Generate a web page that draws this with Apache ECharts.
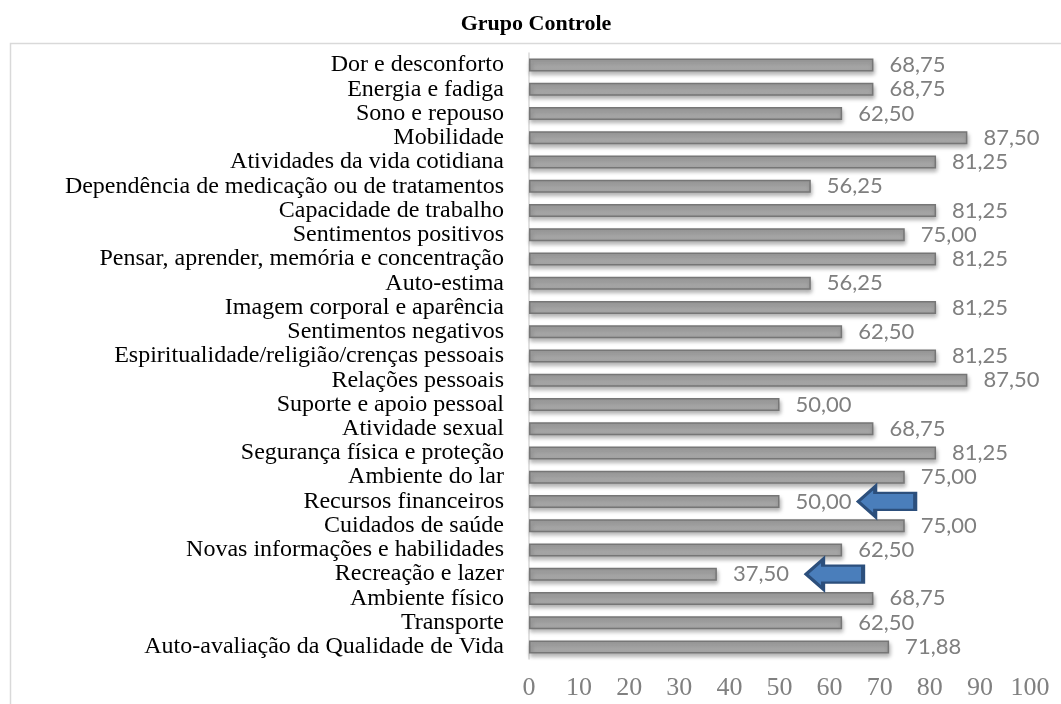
<!DOCTYPE html>
<html>
<head>
<meta charset="utf-8">
<script src="https://cdn.jsdelivr.net/npm/echarts@6/dist/echarts.min.js"></script>
<style>
html, body { margin: 0; padding: 0; background: #fff; }
#main { width: 1061px; height: 704px; }
</style>
</head>
<body>
<div id="main"></div>
<script>
// categorias (de cima para baixo)
var categorias = ['Dor e desconforto', 'Energia e fadiga', 'Sono e repouso', 'Mobilidade',
	'Atividades da vida cotidiana', 'Dependência de medicação ou de tratamentos', 'Capacidade de trabalho',
	'Sentimentos positivos', 'Pensar, aprender, memória e concentração', 'Auto-estima',
	'Imagem corporal e aparência', 'Sentimentos negativos', 'Espiritualidade/religião/crenças pessoais',
	'Relações pessoais', 'Suporte e apoio pessoal', 'Atividade sexual', 'Segurança física e proteção',
	'Ambiente do lar', 'Recursos financeiros', 'Cuidados de saúde', 'Novas informações e habilidades',
	'Recreação e lazer', 'Ambiente físico', 'Transporte', 'Auto-avaliação da Qualidade de Vida'];
var valores = [68.75, 68.75, 62.50, 87.50, 81.25, 56.25, 81.25, 75.00, 81.25, 56.25, 81.25, 62.50, 81.25,
	87.50, 50.00, 68.75, 81.25, 75.00, 50.00, 75.00, 62.50, 37.50, 68.75, 62.50, 71.88];
// setas de destaque: categoria e posição (centro) no eixo x
var setasCategoria = ['Recursos financeiros', 'Recreação e lazer'];
var setasPosicao = [71.4, 61.0];
var ticksX = [0, 10, 20, 30, 40, 50, 60, 70, 80, 90, 100];

var chart = echarts.init(document.getElementById('main'));

// seta para a esquerda
var setaPath = 'path://M0,15 L17,0 L17,6.5 L57,6.5 L57,23.5 L17,23.5 L17,30 Z';

var option = {
	title: {
		text: 'Grupo Controle',
		left: 531,
		textAlign: 'center',
		top: 8,
		textStyle: {
			fontFamily: 'Liberation Serif',
			fontWeight: 'bold',
			fontSize: 22,
			color: '#000'
		}
	},
	graphic: [{
		type: 'rect',
		shape: { x: 10.5, y: 43.5, width: 1100, height: 700 },
		style: { fill: 'none', stroke: '#d9d9d9', lineWidth: 1.5 },
		silent: true
	}],
	grid: {
		top: 53,
		left: 529,
		right: 31,
		bottom: 45,
		containLabel: false
	},
	xAxis: {
		type: 'value',
		min: 0,
		max: 100,
		interval: 10,
		axisLine: { show: false },
		axisTick: { show: false },
		splitLine: { show: false },
		axisLabel: {
			margin: 16,
			fontFamily: 'Liberation Serif',
			fontSize: 26,
			color: '#808080',
			formatter: function (v) { return ticksX.indexOf(v) > -1 ? String(v) : ''; }
		}
	},
	yAxis: {
		type: 'category',
		inverse: true,
		data: categorias,
		axisLine: { show: true, lineStyle: { color: '#d9d9d9', width: 1.5 } },
		axisTick: { show: false },
		axisLabel: {
			margin: 25,
			fontFamily: 'Liberation Serif',
			fontSize: 24,
			color: '#000',
			interval: 0
		}
	},
	series: [{
		type: 'bar',
		data: valores,
		barWidth: 13,
		itemStyle: {
			color: {
				type: 'linear', x: 0, y: 0, x2: 0, y2: 1,
				colorStops: [
					{ offset: 0, color: '#999999' },
					{ offset: 0.3, color: '#a8a8a8' },
					{ offset: 1, color: '#a3a3a3' }
				]
			},
			borderColor: '#767676',
			borderWidth: 1.5,
			shadowBlur: 4,
			shadowOffsetY: 3,
			shadowOffsetX: 1,
			shadowColor: 'rgba(0,0,0,0.3)'
		},
		label: {
			show: true,
			position: 'right',
			distance: 16,
			fontFamily: 'Lato',
			fontSize: 22,
			color: '#7f7f7f',
			formatter: function (p) { return p.value.toFixed(2).replace('.', ','); }
		},
		markPoint: {
			silent: true,
			symbol: setaPath,
			symbolSize: [57, 30],
			symbolKeepAspect: false,
			label: { show: false },
			itemStyle: {
				color: '#4a7ebb',
				borderColor: '#2c4f7c',
				borderWidth: 3
			},
			data: setasCategoria.map(function (c, i) {
				return { coord: [setasPosicao[i], c] };
			})
		}
	}]
};
chart.setOption(option);
</script>
</body>
</html>
